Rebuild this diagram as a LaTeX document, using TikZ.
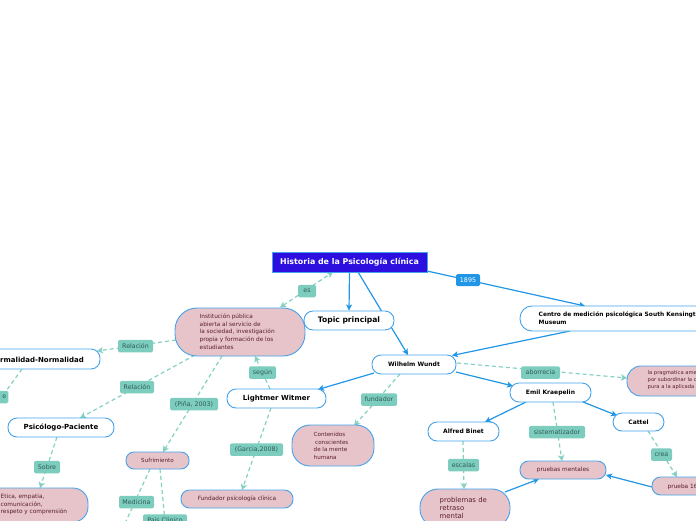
\documentclass[tikz,border=0pt]{standalone}
\usepackage{fontspec}
\setmainfont{DejaVu Sans}
\usetikzlibrary{arrows.meta,backgrounds}
\definecolor{lineblue}{HTML}{2196E6}
\definecolor{nodeborder}{HTML}{45A2EA}
\definecolor{rootfill}{HTML}{2D10E0}
\definecolor{pinkfill}{HTML}{E6C4C9}
\definecolor{pinktext}{HTML}{5B1F2E}
\definecolor{tealfill}{HTML}{7DCDBF}
\definecolor{tealc}{HTML}{84D1C4}
\definecolor{lbltext}{HTML}{2F5A55}
\tikzset{
  wbox/.style={draw=nodeborder, line width=0.9pt, fill=white, rounded corners=9pt, inner sep=0pt, text=black, font=\bfseries\fontsize{6}{7}\selectfont},
  pbox/.style={draw=nodeborder, line width=0.9pt, fill=pinkfill, inner sep=0pt, text=pinktext, font=\fontsize{5.8}{7}\selectfont},
  ptext/.style={inner sep=0pt, align=left, text=pinktext, font=\fontsize{5.8}{7.75}\selectfont},
  btext/.style={inner sep=0pt, align=left, text=black, font=\bfseries\fontsize{5.9}{8}\selectfont},
  lbl/.style={fill=tealfill, text=lbltext, font=\fontsize{6.3}{7}\selectfont, inner xsep=2pt, inner ysep=0pt, minimum height=12.5pt, rounded corners=1.5pt},
  bluelbl/.style={fill=lineblue, text=white, font=\fontsize{6.3}{7}\selectfont, inner xsep=2pt, inner ysep=0pt, minimum height=12pt, rounded corners=1.5pt},
  bluearrow/.style={draw=lineblue, line width=1.2pt, -{Stealth[length=6pt,width=6pt,inset=1.5pt]}},
  dasharrow/.style={draw=tealc, line width=1.2pt, dash pattern=on 4pt off 3pt, -{Stealth[length=6pt,width=6.5pt,inset=1.5pt]}},
  dashplain/.style={draw=tealc, line width=1.2pt, dash pattern=on 4pt off 3pt}
}
\begin{document}
\begin{tikzpicture}[x=1pt,y=-1pt]
\useasboundingbox (0,0) rectangle (696,520);
\clip (0,0) rectangle (696,520);

% main nodes
\node[draw=nodeborder, line width=0.8pt, fill=rootfill, text=white, inner sep=0pt, minimum width=155pt, minimum height=20pt, font=\bfseries\fontsize{7.9}{9}\selectfont] (root) at (349.5,262) {Historia de la Psicología clínica};
\node[wbox, minimum width=90pt, minimum height=19pt, font=\bfseries\fontsize{7.6}{9}\selectfont] (topic) at (349,320.5) {Topic principal};
\node[pbox, minimum width=130pt, minimum height=48pt, rounded corners=22pt] (inst) at (240,332) {};
\node[ptext, anchor=west] (insttext) at (199.5,331.5) {Institución pública\\abierta al servicio de\\la sociedad, investigación\\propia y formación de los\\estudiantes};
\node[wbox, minimum width=84pt, minimum height=19pt] (wundt) at (414,364.5) {Wilhelm Wundt};
\node[wbox, minimum width=220pt, minimum height=25pt, rounded corners=12pt] (centro) at (630,318.5) {};
\node[btext, anchor=west] (centrotext) at (538.5,318.5) {Centro de medición psicológica South Kensington\\Museum};
\node[wbox, minimum width=99pt, minimum height=19pt, font=\bfseries\fontsize{7}{8}\selectfont] (witmer) at (276.5,398.5) {Lightmer Witmer};
\node[pbox, minimum width=82pt, minimum height=41pt, rounded corners=18pt] (cont) at (333,445.5) {};
\node[ptext, anchor=west, font=\fontsize{5.6}{7.5}\selectfont] (conttext) at (313.5,446) {Contenidos\\\hspace*{1.5pt}conscientes\\de la mente\\humana};
\node[wbox, minimum width=81pt, minimum height=19pt] (kraep) at (550.5,392.5) {Emil Kraepelin};
\node[pbox, minimum width=110pt, minimum height=30pt, rounded corners=14pt] (prag) at (682,381) {};
\node[ptext, anchor=west, font=\fontsize{5.2}{7}\selectfont] (pragtext) at (647.5,380.5) {la pragmatica americana\\por subordinar la ciencia\\pura a la aplicada};
\node[wbox, minimum width=71pt, minimum height=19pt] (binet) at (463.5,431.5) {Alfred Binet};
\node[wbox, minimum width=51pt, minimum height=18pt] (cattel) at (638.5,422) {Cattel};
\node[pbox, minimum width=86pt, minimum height=18pt, rounded corners=8.5pt] (pruebas) at (563,470) {pruebas mentales};
\node[pbox, minimum width=90pt, minimum height=18pt, rounded corners=8.5pt] (p16) at (697,486) {};
\node[ptext, anchor=west] (p16text) at (667.5,486.5) {prueba 16PF};
\node[pbox, minimum width=90pt, minimum height=38pt, rounded corners=18pt] (probl) at (465,508) {};
\node[ptext, anchor=west, font=\fontsize{6.9}{8.3}\selectfont] (probltext) at (439.5,508) {problemas de\\retraso\\mental};
\node[wbox, minimum width=130pt, minimum height=20pt] (anorm) at (35,359) {};
\node[inner sep=0pt, anchor=east, font=\bfseries\fontsize{7}{8}\selectfont] (anormtext) at (84,359.5) {Anormalidad-Normalidad};
\node[wbox, minimum width=106pt, minimum height=19pt, font=\bfseries\fontsize{7}{8}\selectfont] (psic) at (61,427.5) {Psicólogo-Paciente};
\node[pbox, minimum width=118pt, minimum height=34pt, rounded corners=15pt] (etica) at (29,505) {};
\node[ptext, anchor=west] (eticatext) at (0.5,504.5) {Etica, empatia,\\comunicación,\\respeto y comprensión};
\node[pbox, minimum width=63pt, minimum height=17pt, rounded corners=8pt, font=\fontsize{5.6}{7}\selectfont] (sufr) at (157.5,460.5) {Sufrimiento};
\node[pbox, minimum width=112pt, minimum height=18pt, rounded corners=8.5pt] (fund) at (237,499) {Fundador psicología clínica};

\coordinate (offA) at (-12,416);
\coordinate (offM) at (121,532);
\coordinate (offP) at (166,532);

\begin{pgfonlayer}{background}
% solid connectors
\draw[bluearrow] (root.south) -- (topic.north);
\draw[bluearrow] ([shift={(8.5,10)}]root.center) -- ([shift={(-6,-9.5)}]wundt.center);
\draw[bluearrow] ([shift={(77.5,9)}]root.center) -- ([shift={(-45,-12.5)}]centro.center);
\draw[bluearrow] ([shift={(-60,12.5)}]centro.center) -- ([shift={(38,-9)}]wundt.center);
\draw[bluearrow] ([shift={(-40,8.5)}]wundt.center) -- ([shift={(41.5,-9)}]witmer.center);
\draw[bluearrow] ([shift={(42,7.5)}]wundt.center) -- ([shift={(-37.5,-6.5)}]kraep.center);
\draw[bluearrow] ([shift={(-24.5,9.5)}]kraep.center) -- ([shift={(21.5,-9.5)}]binet.center);
\draw[bluearrow] ([shift={(32.5,9.5)}]kraep.center) -- ([shift={(-21.5,-6.5)}]cattel.center);
\draw[bluearrow] ([shift={(40,-16)}]probl.center) -- ([shift={(-24,9)}]pruebas.center);
\draw[bluearrow] ([shift={(-45,1)}]p16.center) -- ([shift={(43,5)}]pruebas.center);
% dashed connectors
\draw[dasharrow, {Stealth[length=6pt,width=6.5pt,inset=1.5pt]}-{Stealth[length=6pt,width=6.5pt,inset=1.5pt]}] ([shift={(40,-24.5)}]inst.center) -- ([shift={(-16.5,10)}]root.center);
\draw[dasharrow] ([shift={(-6.5,-9.5)}]witmer.center) -- ([shift={(15,24)}]inst.center);
\draw[dasharrow] ([shift={(-14,9.5)}]wundt.center) -- ([shift={(21,-19.5)}]cont.center);
\draw[dasharrow] ([shift={(43,-1.5)}]wundt.center) -- ([shift={(-55,-3)}]prag.center);
\draw[dasharrow] ([shift={(2.5,9.5)}]kraep.center) -- ([shift={(-1,-9)}]pruebas.center);
\draw[dasharrow] ([shift={(-0.5,9.5)}]binet.center) -- ([shift={(-1,-19)}]probl.center);
\draw[dasharrow] ([shift={(9.5,9)}]cattel.center) -- ([shift={(-20,-9)}]p16.center);
\draw[dasharrow] ([shift={(-64,8)}]inst.center) -- ([shift={(62,-8)}]anorm.center);
\draw[dasharrow] ([shift={(-45,23)}]inst.center) -- ([shift={(19,-9.5)}]psic.center);
\draw[dasharrow] ([shift={(-18,24)}]inst.center) -- ([shift={(5.5,-8.5)}]sufr.center);
\draw[dasharrow] ([shift={(-5.5,9.5)}]witmer.center) -- ([shift={(5,-9)}]fund.center);
\draw[dasharrow] ([shift={(-4,9.5)}]psic.center) -- ([shift={(11,-17)}]etica.center);
\draw[dashplain] ([shift={(-13,10)}]anorm.center) -- (offA);
\draw[dashplain] ([shift={(-7.5,8.5)}]sufr.center) -- (offM);
\draw[dashplain] ([shift={(2.5,8.5)}]sufr.center) -- (offP);
\end{pgfonlayer}

% connector labels
\node[bluelbl, minimum width=24pt] (l1895) at (468,280) {1895};
\node[lbl, minimum width=18pt] (les) at (307,291) {es};
\node[lbl, minimum width=27pt] (lsegun) at (262.5,372.5) {según};
\node[lbl, minimum width=36pt] (lfund) at (379,399.5) {fundador};
\node[lbl, minimum width=39pt] (labor) at (540.5,372.5) {aborrecia};
\node[lbl, minimum width=56pt] (lsist) at (557,432) {sistematizador};
\node[lbl, minimum width=31pt] (lesc) at (463.5,465) {escalas};
\node[lbl, minimum width=21pt] (lcrea) at (661.5,454.5) {crea};
\node[lbl, minimum width=35pt] (lrel1) at (135.5,346) {Relación};
\node[lbl, minimum width=34pt] (lrel2) at (137,387) {Relación};
\node[lbl, minimum width=48pt] (lpina) at (194,404) {(Piña, 2003)};
\node[lbl, minimum width=53pt] (lgarcia) at (256.5,449.5) {(Garcia,2008)};
\node[lbl, minimum width=26pt] (lsobre) at (47,467) {Sobre};
\node[lbl, text width=16pt, align=right, anchor=east] (le) at (8.5,397) {e};
\node[lbl, minimum width=35pt] (lmed) at (136.5,502) {Medicina};
\node[lbl, minimum width=44pt] (lpais) at (165,520.5) {Pais Clinico};
\end{tikzpicture}
\end{document}
